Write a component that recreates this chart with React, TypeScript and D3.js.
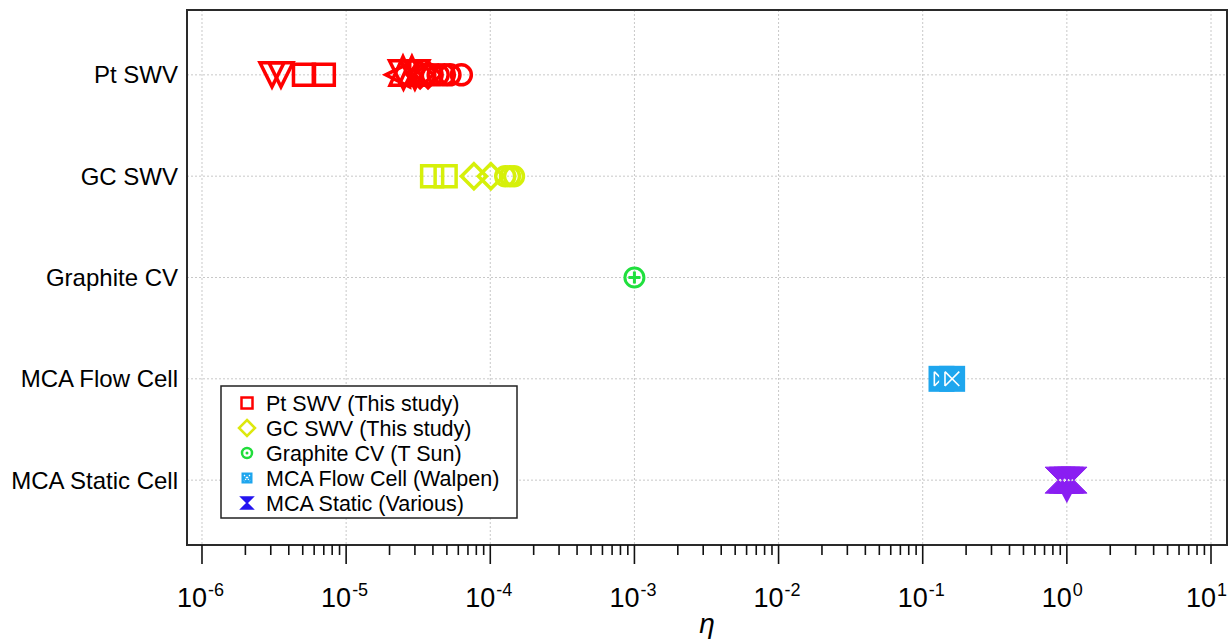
import React from "react";
import * as d3 from "d3";

// Categories shown on the y axis (top to bottom)
const categories = ["Pt SWV", "GC SWV", "Graphite CV", "MCA Flow Cell", "MCA Static Cell"];

// Decade exponents for the major x ticks
const decades = [-6, -5, -4, -3, -2, -1, 0, 1];

// Pt SWV (This study): eta values by marker shape
const ptDownTriangles = [3.06e-6, 3.53e-6];
const ptSquares = [5.1e-6, 7.0e-6];
const ptLeftTriangles = [2.37e-5];
const ptUpTriangles = [2.48e-5, 2.86e-5];
const ptDownTriangles2 = [2.5e-5, 3.0e-5];
const ptDiamonds = [3.26e-5, 3.7e-5];
const ptCircles = [3.5e-5, 3.95e-5, 4.35e-5, 4.8e-5, 5.25e-5, 6.3e-5];

// GC SWV (This study)
const gcSquares = [3.95e-5, 4.9e-5];
const gcDiamonds = [7.7e-5, 1.01e-4];
const gcCircles = [1.27e-4, 1.37e-4, 1.46e-4];

// Graphite CV (T Sun)
const graphiteCv = [1.0e-3];

// MCA Flow Cell (Walpen)
const mcaFlow = [0.135, 0.16];

// MCA Static (Various)
const mcaStatic = [0.87, 0.93, 1.0, 1.06, 1.12];
const mcaStaticTri = [1.0];

const legendItems = [
  { label: "Pt SWV (This study)", kind: "square", color: "#ff0000" },
  { label: "GC SWV (This study)", kind: "diamond", color: "#dde80e" },
  { label: "Graphite CV (T Sun)", kind: "circledot", color: "#20dd3a" },
  { label: "MCA Flow Cell (Walpen)", kind: "flow", color: "#1ea6ee" },
  { label: "MCA Static (Various)", kind: "hourglass", color: "#2414f0" },
];

const RED = "#ff0000";
const YEL = "#d6f00a";
const GRN = "#20e03e";
const CYA = "#1ea6ee";
const PUR = "#8a1ef2";

const W = 1229;
const H = 644;
const left = 187, right = 1227, top = 10, bottom = 545;

const x = d3.scaleLog().domain([Math.pow(10, -6.104), Math.pow(10, 1.111)]).range([left, right]);
const y = d3.scalePoint<string>().domain(categories).range([top, bottom]).padding(0.64);

function shape(kind: string, s: number): string {
  const p = d3.path();
  switch (kind) {
    case "square":
      p.rect(-s, -s, 2 * s, 2 * s);
      break;
    case "diamond":
      p.moveTo(0, -s); p.lineTo(s, 0); p.lineTo(0, s); p.lineTo(-s, 0); p.closePath();
      break;
    case "down":
      p.moveTo(-s, -s); p.lineTo(s, -s); p.lineTo(0, s); p.closePath();
      break;
    case "up":
      p.moveTo(-s, s * 0.8); p.lineTo(s, s * 0.8); p.lineTo(0, -s * 1.4); p.closePath();
      break;
    case "left":
      p.moveTo(s * 0.8, -s); p.lineTo(s * 0.8, s); p.lineTo(-s * 1.2, 0); p.closePath();
      break;
    case "hourglass":
      p.moveTo(-s, -s); p.lineTo(s, -s); p.lineTo(0, 0); p.lineTo(s, s); p.lineTo(-s, s); p.lineTo(0, 0); p.closePath();
      break;
  }
  return p.toString();
}

function Marker({ cx, cy, kind, s, color, sw }: { cx: number; cy: number; kind: string; s: number; color: string; sw: number }) {
  if (kind === "circle") {
    return <circle cx={cx} cy={cy} r={s} fill="none" stroke={color} strokeWidth={sw} />;
  }
  return <path transform={`translate(${cx},${cy})`} d={shape(kind, s)} fill="none" stroke={color} strokeWidth={sw} strokeLinejoin="miter" />;
}

function FlowMarker({ cx, cy, s }: { cx: number; cy: number; s: number }) {
  const i = s * 0.55;
  return (
    <g transform={`translate(${cx},${cy})`}>
      <rect x={-s} y={-s} width={2 * s} height={2 * s} fill={CYA} />
      <path d={`M${-i},${-i}L${i},${i}M${i},${-i}L${-i},${i}M${-i},${-i}V${i}`} stroke="#fff" strokeWidth={1.6} fill="none" />
    </g>
  );
}

function LegendIcon({ kind, color, cx, cy }: { kind: string; color: string; cx: number; cy: number }) {
  const s = 5.5;
  if (kind === "square") return <rect x={cx - s} y={cy - s} width={2 * s} height={2 * s} fill="none" stroke={color} strokeWidth={2.5} />;
  if (kind === "diamond") return <path transform={`translate(${cx},${cy})`} d={shape("diamond", 8)} fill="none" stroke={color} strokeWidth={2.5} />;
  if (kind === "circledot")
    return (
      <g>
        <circle cx={cx} cy={cy} r={5} fill="none" stroke={color} strokeWidth={2.5} />
        <circle cx={cx} cy={cy} r={1.5} fill={color} />
      </g>
    );
  if (kind === "flow")
    return (
      <g transform={`translate(${cx},${cy})`}>
        <rect x={-s} y={-s} width={2 * s} height={2 * s} fill={color} />
        <path d={`M-3,-3L3,3M3,-3L-3,3`} stroke="#fff" strokeWidth={1.2} strokeDasharray="1.5,1.2" />
      </g>
    );
  return <path transform={`translate(${cx},${cy})`} d={shape("hourglass", 6)} fill={color} stroke={color} strokeWidth={1.5} />;
}

export default function App() {
  const font = "'Liberation Sans', Arial, Helvetica, sans-serif";
  const minor: number[] = [];
  decades.forEach((d) => {
    for (let k = 2; k <= 9; k++) {
      const v = k * Math.pow(10, d);
      if (x(v) <= right) minor.push(v);
    }
  });

  const yPt = y("Pt SWV")!;
  const yGc = y("GC SWV")!;
  const yGr = y("Graphite CV")!;
  const yFl = y("MCA Flow Cell")!;
  const ySt = y("MCA Static Cell")!;
  const sw = 3.5;

  return (
    <svg width={W} height={H} style={{ position: "absolute", left: 0, top: 0, background: "#fff" }} fontFamily={font}>
      {/* grid */}
      <g stroke="#c8c8c8" strokeWidth={1} strokeDasharray="2,2">
        {decades.map((d) => (
          <line key={d} x1={x(Math.pow(10, d))} x2={x(Math.pow(10, d))} y1={top} y2={bottom} />
        ))}
        {categories.map((c) => (
          <line key={c} x1={left} x2={right} y1={y(c)} y2={y(c)} />
        ))}
      </g>

      {/* Pt SWV */}
      <g>
        {ptDownTriangles.map((v, i) => <Marker key={"pd" + i} cx={x(v)} cy={yPt} kind="down" s={12} color={RED} sw={sw} />)}
        {ptSquares.map((v, i) => <Marker key={"ps" + i} cx={x(v)} cy={yPt} kind="square" s={10.5} color={RED} sw={sw} />)}
        {ptLeftTriangles.map((v, i) => <Marker key={"pl" + i} cx={x(v)} cy={yPt} kind="left" s={12} color={RED} sw={sw} />)}
        {ptUpTriangles.map((v, i) => <Marker key={"pu" + i} cx={x(v)} cy={yPt} kind="up" s={13} color={RED} sw={sw} />)}
        {ptDownTriangles2.map((v, i) => <Marker key={"pd2" + i} cx={x(v)} cy={yPt} kind="down" s={14} color={RED} sw={sw} />)}
        {ptDiamonds.map((v, i) => <Marker key={"pdm" + i} cx={x(v)} cy={yPt} kind="diamond" s={13} color={RED} sw={sw} />)}
        {ptCircles.map((v, i) => <Marker key={"pc" + i} cx={x(v)} cy={yPt} kind="circle" s={10} color={RED} sw={sw} />)}
      </g>

      {/* GC SWV */}
      <g>
        {gcSquares.map((v, i) => <Marker key={"gs" + i} cx={x(v)} cy={yGc} kind="square" s={10.5} color={YEL} sw={sw} />)}
        {gcDiamonds.map((v, i) => <Marker key={"gd" + i} cx={x(v)} cy={yGc} kind="diamond" s={12.5} color={YEL} sw={sw} />)}
        {gcCircles.map((v, i) => <Marker key={"gc" + i} cx={x(v)} cy={yGc} kind="circle" s={9.5} color={YEL} sw={sw} />)}
      </g>

      {/* Graphite CV */}
      <g>
        {graphiteCv.map((v, i) => (
          <g key={"gr" + i}>
            <circle cx={x(v)} cy={yGr} r={9.5} fill="none" stroke={GRN} strokeWidth={3} />
            <path d={`M${x(v) - 6},${yGr}H${x(v) + 6}M${x(v)},${yGr - 6}V${yGr + 6}`} stroke={GRN} strokeWidth={3} />
          </g>
        ))}
      </g>

      {/* MCA Flow Cell */}
      <g>
        {mcaFlow.map((v, i) => <FlowMarker key={"fl" + i} cx={x(v)} cy={yFl} s={13} />)}
      </g>

      {/* MCA Static */}
      <g>
        {mcaStatic.map((v, i) => (
          <path key={"st" + i} transform={`translate(${x(v)},${ySt})`} d={shape("hourglass", 13)} fill={PUR} stroke={PUR} strokeWidth={1} />
        ))}
        {mcaStaticTri.map((v, i) => (
          <path key={"stt" + i} d={`M${x(v) - 9},${ySt + 6}L${x(v) + 9},${ySt + 6}L${x(v)},${ySt + 23}Z`} fill={PUR} />
        ))}
      </g>

      {/* frame */}
      <rect x={left} y={top} width={right - left} height={bottom - top} fill="none" stroke="#2a2a2a" strokeWidth={2} />

      {/* x ticks */}
      <g stroke="#111" strokeWidth={1.6}>
        {decades.map((d) => (
          <line key={d} x1={x(Math.pow(10, d))} x2={x(Math.pow(10, d))} y1={bottom} y2={bottom + 19} />
        ))}
        {minor.map((v, i) => (
          <line key={i} x1={x(v)} x2={x(v)} y1={bottom} y2={bottom + 10} />
        ))}
      </g>
      <g fill="#000">
        {decades.map((d) => {
          const tx = x(Math.pow(10, d));
          return (
            <g key={d}>
              <text x={tx + 5} y={607} textAnchor="end" fontSize={27}>10</text>
              <text x={tx + 6} y={596} textAnchor="start" fontSize={18}>{d}</text>
            </g>
          );
        })}
      </g>
      <text x={707} y={633} fontSize={28} fontStyle="italic" textAnchor="middle">η</text>

      {/* y labels */}
      <g>
        {categories.map((c) => (
          <text key={c} x={178} y={y(c)! + 8.5} textAnchor="end" fontSize={24}>{c}</text>
        ))}
      </g>

      {/* legend */}
      <g>
        <rect x={221} y={386} width={296} height={132} fill="#fff" stroke="#222" strokeWidth={1.5} />
        {legendItems.map((it, i) => {
          const cy = 403 + i * 25;
          return (
            <g key={it.label}>
              <LegendIcon kind={it.kind} color={it.color} cx={247} cy={cy} />
              <text x={266} y={cy + 7.5} fontSize={21.5}>{it.label}</text>
            </g>
          );
        })}
      </g>
    </svg>
  );
}
